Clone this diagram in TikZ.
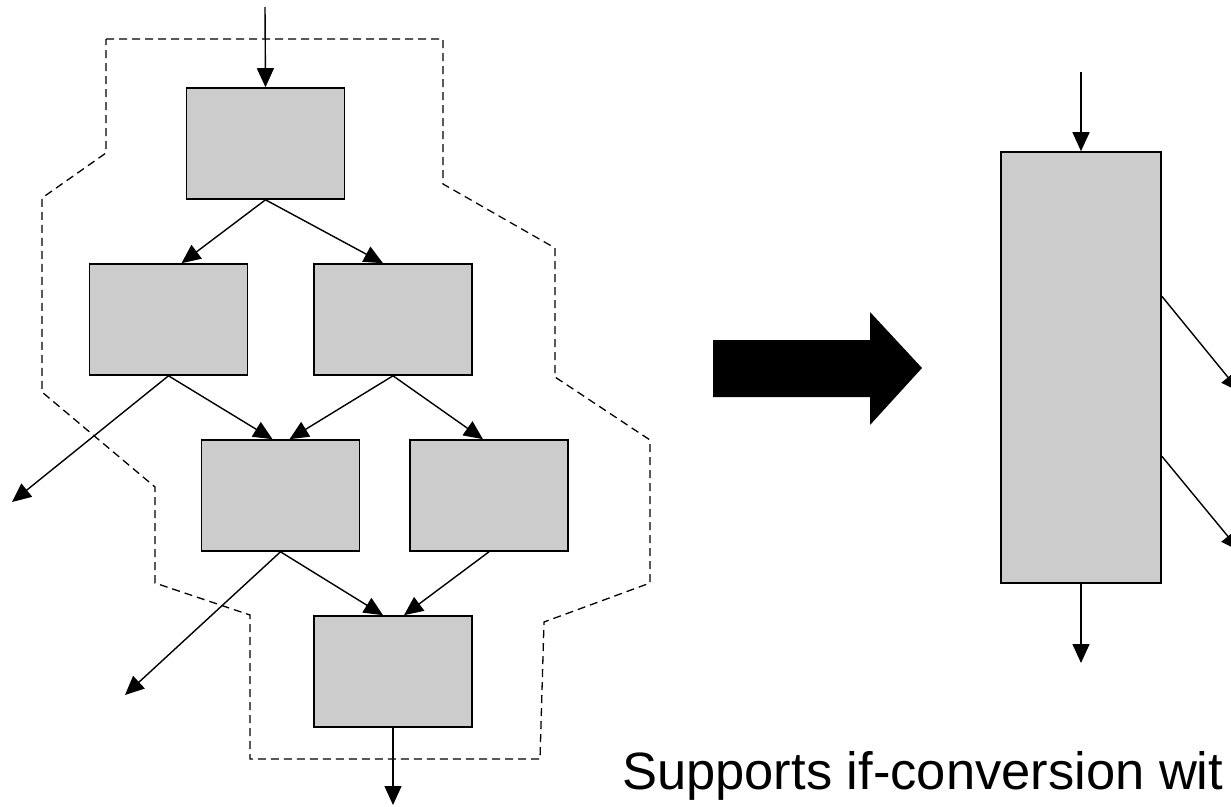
\documentclass[tikz,border=0pt]{standalone}
\usepackage{fontspec}
\setmainfont{Liberation Sans}
\usetikzlibrary{positioning,calc,arrows.meta}
\definecolor{blockgray}{RGB}{204,204,204}

\begin{document}
\begin{tikzpicture}[x=1pt,y=-1pt,
  block/.style={draw,fill=blockgray,line width=1.6pt,inner sep=0pt,
    minimum width=158pt,minimum height=111pt},
  flow/.style={line width=1.4pt,-{Triangle[length=19pt,width=17pt]}},
  region/.style={line width=1.3pt,dash pattern=on 8pt off 5pt}
]
\useasboundingbox (0,0) rectangle (1231,806);

% the blocks before
\node[block] (b1) at (265.5,143.5) {};
\node[block] (b2) at (168.5,319.5) {};
\node[block] (b3) at (393,319.5) {};
\node[block] (b4) at (280.5,495.5) {};
\node[block] (b5) at (489,495.5) {};
\node[block] (b6) at (393,671.5) {};

% the free ends
\coordinate (in) at (265,7);
\coordinate (out) at (393,805);
\coordinate (exitA) at (12,502);
\coordinate (exitB) at (125,695);

% the region
\draw[region] (106,39) -- (443,39) -- (443,184) -- (555,248) -- (555,377)
  -- (650,440) -- (650,583) -- (544,622) -- (540,759) -- (250,759)
  -- (250,615) -- (155,583) -- (155,487) -- (42,392) -- (42,198)
  -- (106,153) -- cycle;

% the edges
\draw[flow] (in) -- (b1.north);
\draw[flow] (b1.south) -- ($(b2.north)+(13,0)$);
\draw[flow] (b1.south) -- ($(b3.north)+(-10,0)$);
\draw[flow] (b2.south) -- ($(b4.north)+(-8,0)$);
\draw[flow] (b2.south) -- (exitA);
\draw[flow] (b3.south) -- ($(b4.north)+(9,0)$);
\draw[flow] (b3.south) -- ($(b5.north)+(-6,0)$);
\draw[flow] (b4.south) -- ($(b6.north)+(-10,0)$);
\draw[flow] (b4.south) -- (exitB);
\draw[flow] (b5.south) -- ($(b6.north)+(11,0)$);
\draw[flow] (b6.south) -- (out);

% the big arrow
\fill (713,340) -- (870,340) -- (870,312) -- (922,368) -- (870,425)
  -- (870,397) -- (713,397) -- cycle;

% the block after
\node[block,minimum width=160pt,minimum height=431pt] (bb) at (1081,367.5) {};
\coordinate (rin) at (1081,72);
\coordinate (rout) at (1081,663);
\coordinate (rexitA) at (1240,392);
\coordinate (rexitB) at (1240,551);
\draw[flow] (rin) -- (bb.north);
\draw[flow] (bb.south) -- (rout);
\draw[flow] ($(bb.north east)+(0,145)$) -- (rexitA);
\draw[flow] ($(bb.north east)+(0,305)$) -- (rexitB);

% the caption
\node[anchor=base west,inner sep=0pt,font=\fontsize{52.5pt}{60pt}\selectfont]
  (caption) at (622,789) {Supports if-conversion wit};
\end{tikzpicture}
\end{document}
